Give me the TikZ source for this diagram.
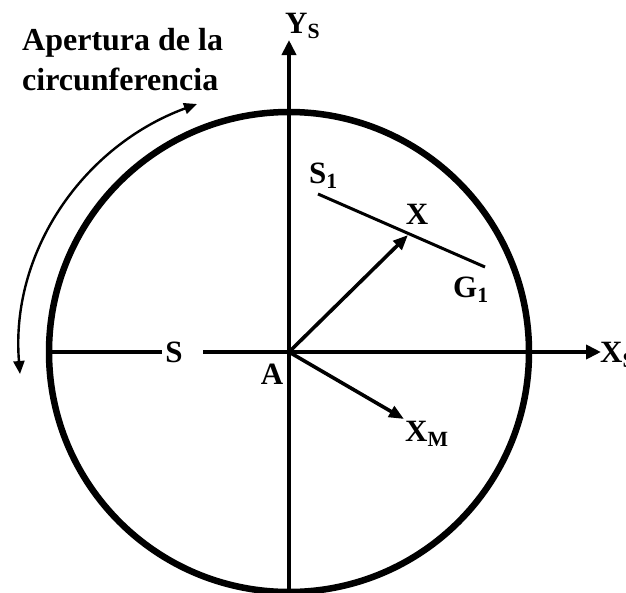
\documentclass[tikz,border=0pt]{standalone}
\usepackage{fontspec}
\setmainfont{Liberation Serif}
\usetikzlibrary{arrows.meta}

\begin{document}
\begin{tikzpicture}[x=1pt,y=-1pt,
  lbl/.style={font=\fontsize{31}{38}\selectfont\bfseries, inner sep=0pt},
  axisline/.style={line width=4pt},
  axis/.style={line width=4pt, -{Triangle[length=15pt,width=14pt]}},
  vec/.style={line width=3.6pt, -{Triangle[length=15pt,width=12pt]}}]
\useasboundingbox (0,0) rectangle (626,592);

\coordinate (A) at (289,352);
\draw[line width=6.5pt] (A) circle[radius=240pt];

\coordinate (Bot) at (289,592);
\coordinate (YStip) at (289,40);
\coordinate (W) at (50,352);
\coordinate (XStip) at (601,352);
\coordinate (Sgap) at (203,352);
\node[lbl, inner xsep=3pt] (S) at (174,352) {S};
\draw[axisline] (W) -- (S.west);
\draw[axis] (Sgap) -- (XStip);
\draw[axis] (Bot) -- (YStip);

\node[lbl, font=\fontsize{32}{40}\selectfont\bfseries, align=left, anchor=north west]
  (title) at (22,28) {Apertura de la\\circunferencia};
\coordinate (arcTop) at (197,104);
\coordinate (arcBot) at (20,374);
\draw[line width=2.4pt, {Triangle[length=13pt,width=11pt]}-{Triangle[length=13pt,width=11pt]}]
  (arcBot) .. controls (10,252) and (83,146) .. (arcTop);

\coordinate (Xtip) at (408,235);
\coordinate (XMtip) at (404,419);
\coordinate (S1end) at (318,194);
\coordinate (G1end) at (485,267);
\draw[vec] (A) -- (Xtip);
\draw[vec] (A) -- (XMtip);
\draw[line width=3pt] (S1end) -- (G1end);

\node[lbl, anchor=base west] (Ys) at (285,33) {Y\textsubscript{S}};
\node[lbl, anchor=base west] (Xs) at (600,362) {X\textsubscript{S}};
\node[lbl] (Alab) at (272,374) {A};
\node[lbl] (Xlab) at (417,214) {X};
\node[lbl, anchor=base west] (S1) at (309,183) {S\textsubscript{1}};
\node[lbl, anchor=base west] (G1) at (453,297) {G\textsubscript{1}};
\node[lbl, anchor=base west] (XM) at (405,441) {X\textsubscript{M}};
\end{tikzpicture}
\end{document}
